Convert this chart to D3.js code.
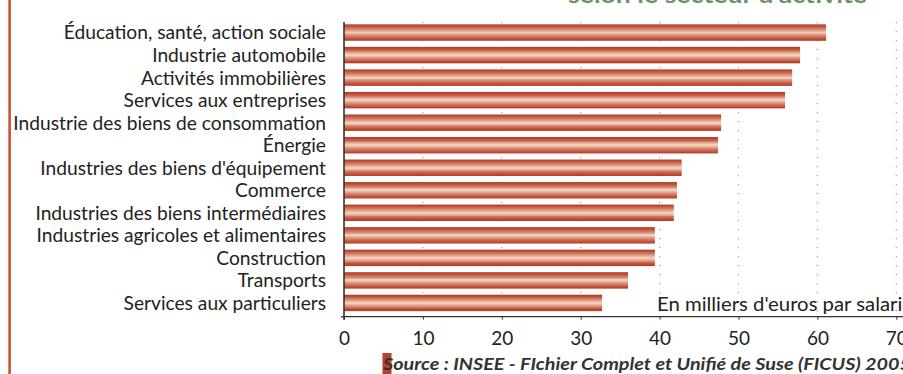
<!DOCTYPE html>
<html>
<head>
<meta charset="utf-8">
<script src="https://cdn.jsdelivr.net/npm/d3@7/dist/d3.min.js"></script>
<style>
  html, body { margin: 0; padding: 0; background: #fff; }
  svg { display: block; }
  text { font-family: Lato, "Open Sans", sans-serif; }
</style>
</head>
<body>
<svg id="chart" width="903" height="374"></svg>
<script>
// Average value per employee by sector (thousands of euros)
const sectors = [
  "Éducation, santé, action sociale",
  "Industrie automobile",
  "Activités immobilières",
  "Services aux entreprises",
  "Industrie des biens de consommation",
  "Énergie",
  "Industries des biens d'équipement",
  "Commerce",
  "Industries des biens intermédiaires",
  "Industries agricoles et alimentaires",
  "Construction",
  "Transports",
  "Services aux particuliers"
];
const values = [61.1, 57.8, 56.8, 55.9, 47.8, 47.4, 42.8, 42.2, 41.8, 39.4, 39.4, 36.0, 32.7];
const xTicks = [0, 10, 20, 30, 40, 50, 60, 70];
const titleText = "selon le secteur d'activité";
const unitText = "En milliers d'euros par salarié";
const sourceText = "Source : INSEE - FIchier Complet et Unifié de Suse (FICUS) 2005";

const svg = d3.select("#chart");

const x = d3.scaleLinear().domain([0, 70]).range([344, 896.3]);
const y = d3.scaleBand().domain(sectors).range([21.3, 314.2])
  .paddingInner(0.27).paddingOuter(0.135);
const axisY = 316.7;

// Banded cylinder-like vertical gradient for the bars
const defs = svg.append("defs");
const grad = defs.append("linearGradient").attr("id", "barGrad")
  .attr("x1", 0).attr("y1", 0).attr("x2", 0).attr("y2", 1);
const edge = d3.rgb("#b73f27"), mid = d3.rgb("#f3cdb8");
const bands = 9;
for (let i = 0; i < bands * 2; i++) {
  const t = i < bands ? i / (bands - 1) : (bands * 2 - 1 - i) / (bands - 1);
  const c = d3.interpolateRgb(edge, mid)(Math.pow(t, 1.3));
  grad.append("stop").attr("offset", (i / (bands * 2) * 100) + "%").attr("stop-color", c);
  grad.append("stop").attr("offset", ((i + 1) / (bands * 2) * 100) + "%").attr("stop-color", c);
}

// Red rule on the left edge
svg.append("rect").attr("x", 8.3).attr("y", 0).attr("width", 2.6).attr("height", 374)
  .attr("fill", "#c9503b");

// Title (runs off the top edge)
svg.append("text").attr("x", 568).attr("y", 3)
  .attr("font-size", 22).attr("font-weight", 700).attr("fill", "#6b9366")
  .attr("textLength", 299).attr("lengthAdjust", "spacingAndGlyphs")
  .text(titleText);

// Dotted vertical grid
svg.append("g").selectAll("line").data(xTicks.slice(1)).join("line")
  .attr("x1", d => x(d)).attr("x2", d => x(d))
  .attr("y1", 22).attr("y2", axisY)
  .attr("stroke", "#a0a0a0").attr("stroke-width", 1.2)
  .attr("stroke-dasharray", "1.3,7.7");

// Unit label
svg.append("text").attr("x", 657).attr("y", 311)
  .attr("font-size", 19.5).attr("fill", "#222")
  .attr("textLength", 256).attr("lengthAdjust", "spacingAndGlyphs")
  .text(unitText);

// Bars
svg.append("g").selectAll("rect").data(values).join("rect")
  .attr("x", x(0))
  .attr("y", (d, i) => y(sectors[i]))
  .attr("width", d => x(d) - x(0))
  .attr("height", y.bandwidth())
  .attr("fill", "url(#barGrad)");

// Category labels
svg.append("g").selectAll("text").data(sectors).join("text")
  .attr("x", 326)
  .attr("y", d => y(d) + y.bandwidth() / 2)
  .attr("dy", "0.36em")
  .attr("text-anchor", "end")
  .attr("font-size", 19.2)
  .attr("fill", "#222")
  .text(d => d);

// Axes
svg.append("line").attr("x1", x(0)).attr("x2", 903).attr("y1", axisY).attr("y2", axisY)
  .attr("stroke", "#333").attr("stroke-width", 1.3);
svg.append("line").attr("x1", x(0)).attr("x2", x(0)).attr("y1", 22).attr("y2", axisY + 3)
  .attr("stroke", "#333").attr("stroke-width", 1.6);
svg.append("line").attr("x1", x(0) - 3).attr("x2", x(0)).attr("y1", axisY).attr("y2", axisY)
  .attr("stroke", "#333").attr("stroke-width", 1.3);

const xAxis = d3.axisBottom(x).tickValues(xTicks).tickSize(3).tickPadding(12);
const gx = svg.append("g").attr("transform", `translate(0,${axisY})`).call(xAxis);
gx.select(".domain").remove();
gx.selectAll(".tick line").attr("stroke", "#333");
gx.selectAll(".tick text").attr("font-size", 19).attr("fill", "#222")
  .attr("font-family", "Lato, 'Open Sans', sans-serif");

// Source line with highlighted initial
svg.append("rect").attr("x", 382.5).attr("y", 353).attr("width", 9).attr("height", 21)
  .attr("fill", "#b8412a");
svg.append("text").attr("x", 383).attr("y", 370)
  .attr("font-size", 17).attr("font-weight", 700).attr("font-style", "italic")
  .attr("fill", "#333")
  .attr("textLength", 528).attr("lengthAdjust", "spacingAndGlyphs")
  .text(sourceText);
</script>
</body>
</html>
